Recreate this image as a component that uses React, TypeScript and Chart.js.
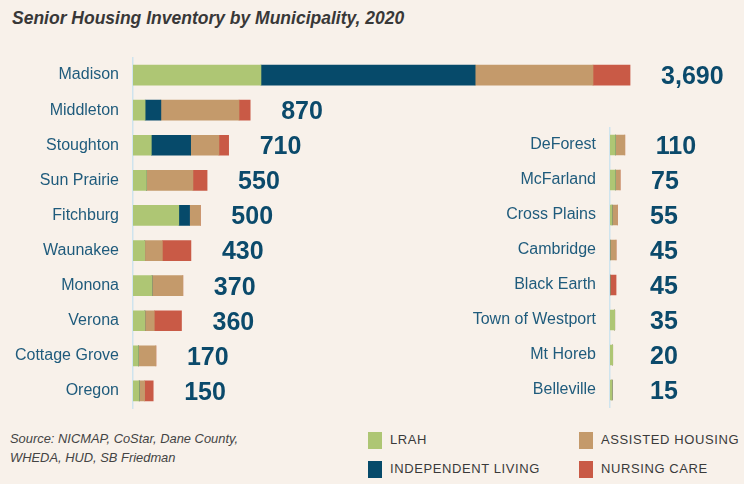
import React, { useEffect, useRef } from "react";
import { Chart, registerables } from "chart.js";
Chart.register(...registerables);

// ---------- DATA ----------
const TITLE = "Senior Housing Inventory by Municipality, 2020";
const SERIES_NAMES = ["LRAH", "INDEPENDENT LIVING", "ASSISTED HOUSING", "NURSING CARE"];

const LEFT_CATS = ["Madison", "Middleton", "Stoughton", "Sun Prairie", "Fitchburg", "Waunakee", "Monona", "Verona", "Cottage Grove", "Oregon"];
const LEFT_LRAH = [950, 90, 136, 100, 340, 87, 141, 88, 40, 46];
const LEFT_IL = [1590, 117, 292, 0, 80, 0, 0, 0, 0, 0];
const LEFT_AH = [875, 580, 210, 345, 80, 131, 229, 70, 130, 40];
const LEFT_NC = [275, 83, 72, 105, 0, 212, 0, 202, 0, 64];
const LEFT_TOTALS = [3690, 870, 710, 550, 500, 430, 370, 360, 170, 150];

const RIGHT_CATS = ["DeForest", "McFarland", "Cross Plains", "Cambridge", "Black Earth", "Town of Westport", "Mt Horeb", "Belleville"];
const RIGHT_LRAH = [40, 40, 15, 0, 0, 35, 20, 15];
const RIGHT_IL = [0, 0, 0, 0, 0, 0, 0, 0];
const RIGHT_AH = [70, 35, 40, 45, 0, 0, 0, 0];
const RIGHT_NC = [0, 0, 0, 0, 45, 0, 0, 0];
const RIGHT_TOTALS = [110, 75, 55, 45, 45, 35, 20, 15];

const SOURCE_LINES = ["Source: NICMAP, CoStar, Dane County,", "WHEDA, HUD, SB Friedman"];

// ---------- STYLE ----------
const BG = "#f8f1ea";
const COLORS = ["#aec674", "#064a6a", "#c49a6b", "#c95a46"];
const LABEL_COLOR = "#1f5b7c";
const VALUE_COLOR = "#0b4a6b";
const AXIS_COLOR = "#cfe4ee";
const FONT = "'Liberation Sans', Arial, sans-serif";

const totalsPlugin = (totals: number[]) => ({
  id: "totals",
  afterDatasetsDraw(chart: any) {
    const { ctx, scales, chartArea } = chart;
    ctx.save();
    ctx.font = `bold 25px ${FONT}`;
    ctx.fillStyle = VALUE_COLOR;
    ctx.textAlign = "left";
    ctx.textBaseline = "middle";
    totals.forEach((t, i) => {
      const endX = scales.x.getPixelForValue(t);
      const x = Math.max(endX + 31, chartArea.left + 40);
      const y = scales.y.getPixelForValue(i) + 2;
      ctx.fillText(t.toLocaleString("en-US"), x, y);
    });
    ctx.restore();
  },
});

function makeConfig(
  cats: string[],
  series: number[][],
  totals: number[],
  axisWidth: number,
  xMax: number,
  padTop: number,
  padBottom: number
) {
  return {
    type: "bar" as const,
    data: {
      labels: cats,
      datasets: series.map((d, k) => ({
        label: SERIES_NAMES[k],
        data: d,
        backgroundColor: COLORS[k],
        borderWidth: 0,
        barThickness: 20,
      })),
    },
    options: {
      indexAxis: "y" as const,
      animation: false as const,
      responsive: false,
      maintainAspectRatio: false,
      layout: { padding: { top: padTop, bottom: padBottom, left: 0, right: 0 } },
      plugins: { legend: { display: false }, tooltip: { enabled: false }, title: { display: false } },
      scales: {
        x: { display: false, stacked: true, min: 0, max: xMax },
        y: {
          stacked: true,
          grid: { display: false, drawTicks: false },
          border: { display: true, color: AXIS_COLOR, width: 1.5 },
          ticks: { color: LABEL_COLOR, font: { family: FONT, size: 16 }, padding: 14, crossAlign: "near" as const },
          afterFit: (s: any) => {
            s.width = axisWidth;
            s.paddingTop = 0;
            s.paddingBottom = 0;
          },
        },
      },
    },
    plugins: [totalsPlugin(totals)],
  };
}

function BarPanel(props: { cfg: any; left: number; top: number; width: number; height: number }) {
  const ref = useRef<HTMLCanvasElement | null>(null);
  useEffect(() => {
    if (!ref.current) return;
    const chart = new Chart(ref.current, props.cfg);
    return () => chart.destroy();
  }, []);
  return (
    <canvas
      ref={ref}
      width={props.width}
      height={props.height}
      style={{ position: "absolute", left: props.left, top: props.top, width: props.width, height: props.height }}
    />
  );
}

function LegendItem(props: { color: string; label: string; left: number; top: number }) {
  return (
    <div style={{ position: "absolute", left: props.left, top: props.top, display: "flex", alignItems: "center", height: 18 }}>
      <div style={{ width: 14, height: 17, background: props.color }} />
      <div
        style={{
          marginLeft: 8,
          fontFamily: FONT,
          fontSize: 13,
          letterSpacing: "0.6px",
          color: "#3a3a3a",
          lineHeight: "18px",
          whiteSpace: "nowrap",
        }}
      >
        {props.label}
      </div>
    </div>
  );
}

export default function App() {
  const leftCfg = makeConfig(LEFT_CATS, [LEFT_LRAH, LEFT_IL, LEFT_AH, LEFT_NC], LEFT_TOTALS, 133, 4536, 16.5, 12.5);
  const rightCfg = makeConfig(RIGHT_CATS, [RIGHT_LRAH, RIGHT_IL, RIGHT_AH, RIGHT_NC], RIGHT_TOTALS, 170, 995, 86.5, 13.5);
  return (
    <div style={{ position: "absolute", left: 0, top: 0, width: 744, height: 484, background: BG, overflow: "hidden" }}>
      <div
        style={{
          position: "absolute",
          left: 12,
          top: 8,
          fontFamily: FONT,
          fontWeight: "bold",
          fontStyle: "italic",
          fontSize: 17.5,
          lineHeight: "20px",
          color: "#383838",
          whiteSpace: "nowrap",
        }}
      >
        {TITLE}
      </div>
      <BarPanel cfg={leftCfg} left={0} top={41} width={744} height={380} />
      <BarPanel cfg={rightCfg} left={440} top={41} width={304} height={380} />
      <div
        style={{
          position: "absolute",
          left: 10,
          top: 428.5,
          fontFamily: FONT,
          fontStyle: "italic",
          fontSize: 12.9,
          lineHeight: "19px",
          color: "#444",
          whiteSpace: "nowrap",
        }}
      >
        {SOURCE_LINES.map((l, i) => (
          <div key={i}>{l}</div>
        ))}
      </div>
      <LegendItem color={COLORS[0]} label={SERIES_NAMES[0]} left={368} top={431} />
      <LegendItem color={COLORS[1]} label={SERIES_NAMES[1]} left={368} top={460} />
      <LegendItem color={COLORS[2]} label={SERIES_NAMES[2]} left={579} top={431} />
      <LegendItem color={COLORS[3]} label={SERIES_NAMES[3]} left={579} top={460} />
    </div>
  );
}
